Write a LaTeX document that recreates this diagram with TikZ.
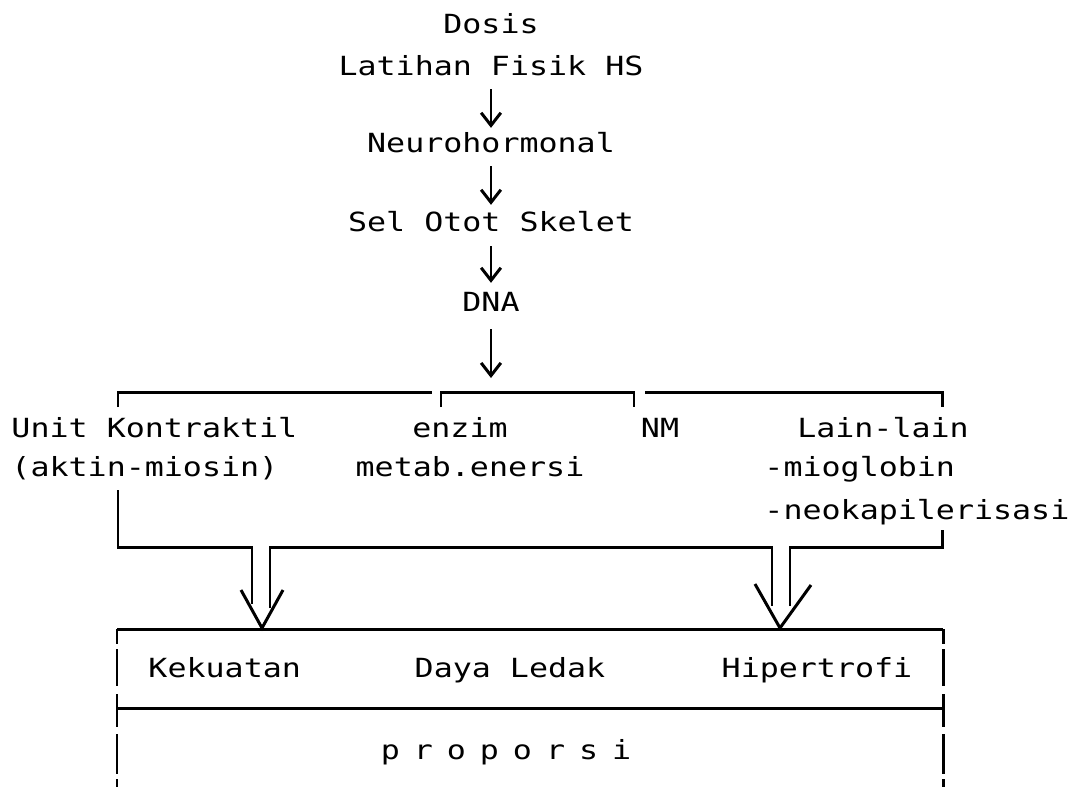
\documentclass[tikz,border=0pt]{standalone}
\usepackage{fontspec}
\newfontfamily\typewr[FakeStretch=1.2]{DejaVu Sans Mono}
\usetikzlibrary{arrows.meta}

\tikzset{
  txt/.style={font={\typewr\fontsize{7.5pt}{9pt}\selectfont}, inner sep=0pt, text height=5.5pt, text depth=0pt},
  turun/.style={-{Straight Barb[length=3.6pt,width=5.6pt]}},
  sisi/.style={dash pattern=on 0.15cm off 0.05cm on 0.37cm off 0.08cm on 0.33cm off 0.07cm on 0.40cm off 0.05cm}
}
\newcommand{\jarak}{\hspace{0.14cm}}

\begin{document}
\begin{tikzpicture}[x=0.01cm, y=-0.01cm, line width=0.85pt]
    \useasboundingbox (0,0) rectangle (1075,787);
    % urutan atas
    \node[txt] (dosis) at (491,24) {Dosis};
    \node[txt] (latihan) at (491,66) {Latihan Fisik HS};
    \node[txt] (neuro) at (491,143) {Neurohormonal};
    \node[txt] (sel) at (491,222) {Sel Otot Skelet};
    \node[txt] (dna) at (491,302) {DNA};
    \coordinate (brk) at (491,392);
    \draw[turun, shorten <=0.12cm, shorten >=0.04cm] (latihan) -- (neuro);
    \draw[turun, shorten <=0.12cm, shorten >=0.06cm] (neuro) -- (sel);
    \draw[turun, shorten <=0.13cm, shorten >=0.08cm] (sel) -- (dna);
    \draw[turun, shorten <=0.16cm, shorten >=0.14cm] (dna) -- (brk);
    % kurung
    \draw (118,407) -- (118,392) -- (432,392);
    \draw (441,407) -- (441,392) -- (634,392) -- (634,407);
    \draw (645,392) -- (942,392) -- (942,407);
    % cabang
    \node[txt, anchor=west] (unit) at (10,428) {Unit Kontraktil};
    \node[txt, anchor=west] (aktin) at (10,467) {(aktin-miosin)};
    \node[txt] (enzim) at (460,428) {enzim};
    \node[txt] (metab) at (470,467) {metab.enersi};
    \node[txt] (nm) at (660,428) {NM};
    \node[txt] (lain) at (883,428) {Lain-lain};
    \node[txt, anchor=west] (mioglobin) at (763,467) {-mioglobin};
    \node[txt, anchor=west] (neokap) at (763,510) {-neokapilerisasi};
    % garis ke kotak
    \coordinate (ujungA) at (262,628);
    \coordinate (ujungB) at (780,628);
    \draw (118,490) |- (252,547) -- (252,604);
    \draw (270,608) |- (772,547) -- (772,606);
    \draw (790,606) |- (942,547) -- (942,530);
    \draw (ujungA) ++(-21,-38) -- (ujungA) -- ++(21,-38);
    \draw (ujungB) ++(-25,-44) -- (ujungB) -- ++(31,-43);
    % kotak
    \draw (117,629) -- (943,629);
    \draw (117,708) -- (943,708);
    \draw[sisi] (117,629) -- (117,787);
    \draw[sisi] (943,629) -- (943,787);
    \node[txt, anchor=west] (kekuatan) at (147,668) {Kekuatan};
    \node[txt] (daya) at (510,668) {Daya Ledak};
    \node[txt] (hiper) at (817,668) {Hipertrofi};
    \node[txt] (proporsi) at (506,750) {p\jarak r\jarak o\jarak p\jarak o\jarak r\jarak s\jarak i};
\end{tikzpicture}
\end{document}
